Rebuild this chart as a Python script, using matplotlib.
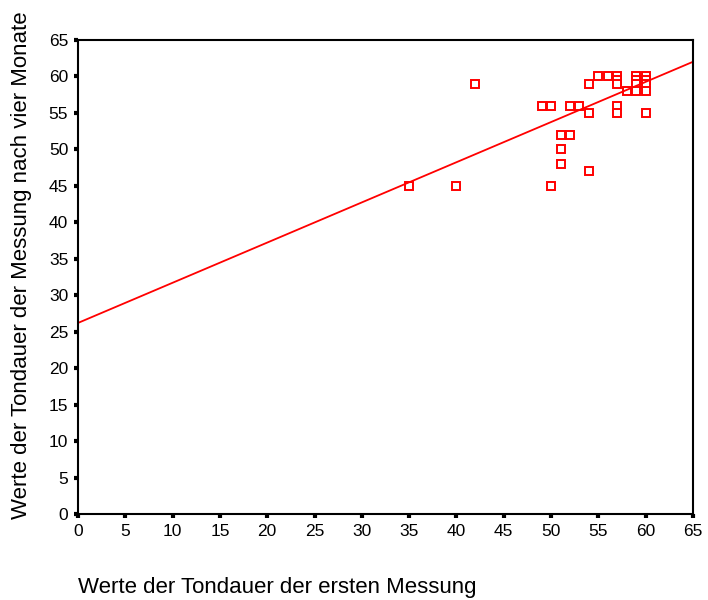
import matplotlib
matplotlib.use("Agg")
import matplotlib.pyplot as plt
import numpy as np

plt.rcParams['font.family'] = ['Liberation Sans', 'DejaVu Sans']

x_first = [35, 40, 42, 49, 50, 50, 51, 51, 51, 52, 52, 53, 54, 54, 54, 55, 56,
           57, 57, 57, 57, 57, 58, 59, 59, 59, 59, 60, 60, 60, 60, 60]
y_after = [45, 45, 59, 56, 56, 45, 52, 50, 48, 56, 52, 56, 59, 55, 47, 60, 60,
           60, 59.5, 59, 56, 55, 58, 60, 59.5, 59, 58, 60, 59.5, 59, 58, 55]

fit_intercept = 26.2
fit_slope = 0.551

ticks = list(range(0, 66, 5))

fig = plt.figure(figsize=(7.08, 6.0), dpi=100)
ax = fig.add_axes([78/708, 1-514/600, (693-78)/708, (514-40)/600])

ax.plot(x_first, y_after, linestyle='none', marker='s', markersize=5.5,
        markerfacecolor='white', markeredgecolor='#ff0000', markeredgewidth=1.4)
xl = np.array([0, 65])
ax.plot(xl, fit_intercept + fit_slope * xl, color='#ff0000', linewidth=1.3)

ax.set_xlim(0, 65)
ax.set_ylim(0, 65)
ax.set_xticks(ticks)
ax.set_yticks(ticks)
ax.tick_params(direction='out', length=3, width=3, labelsize=12.5, pad=4, color='black')
for s in ax.spines.values():
    s.set_linewidth(1.5)
    s.set_color('black')

fig.text(78/708, 1-588/600, 'Werte der Tondauer der ersten Messung',
         fontsize=16, ha='left', va='center')
fig.text(22/708, 1-265/600, 'Werte der Tondauer der Messung nach vier Monate',
         fontsize=16, ha='center', va='center', rotation=90)

fig.savefig('out.png', dpi=100)
